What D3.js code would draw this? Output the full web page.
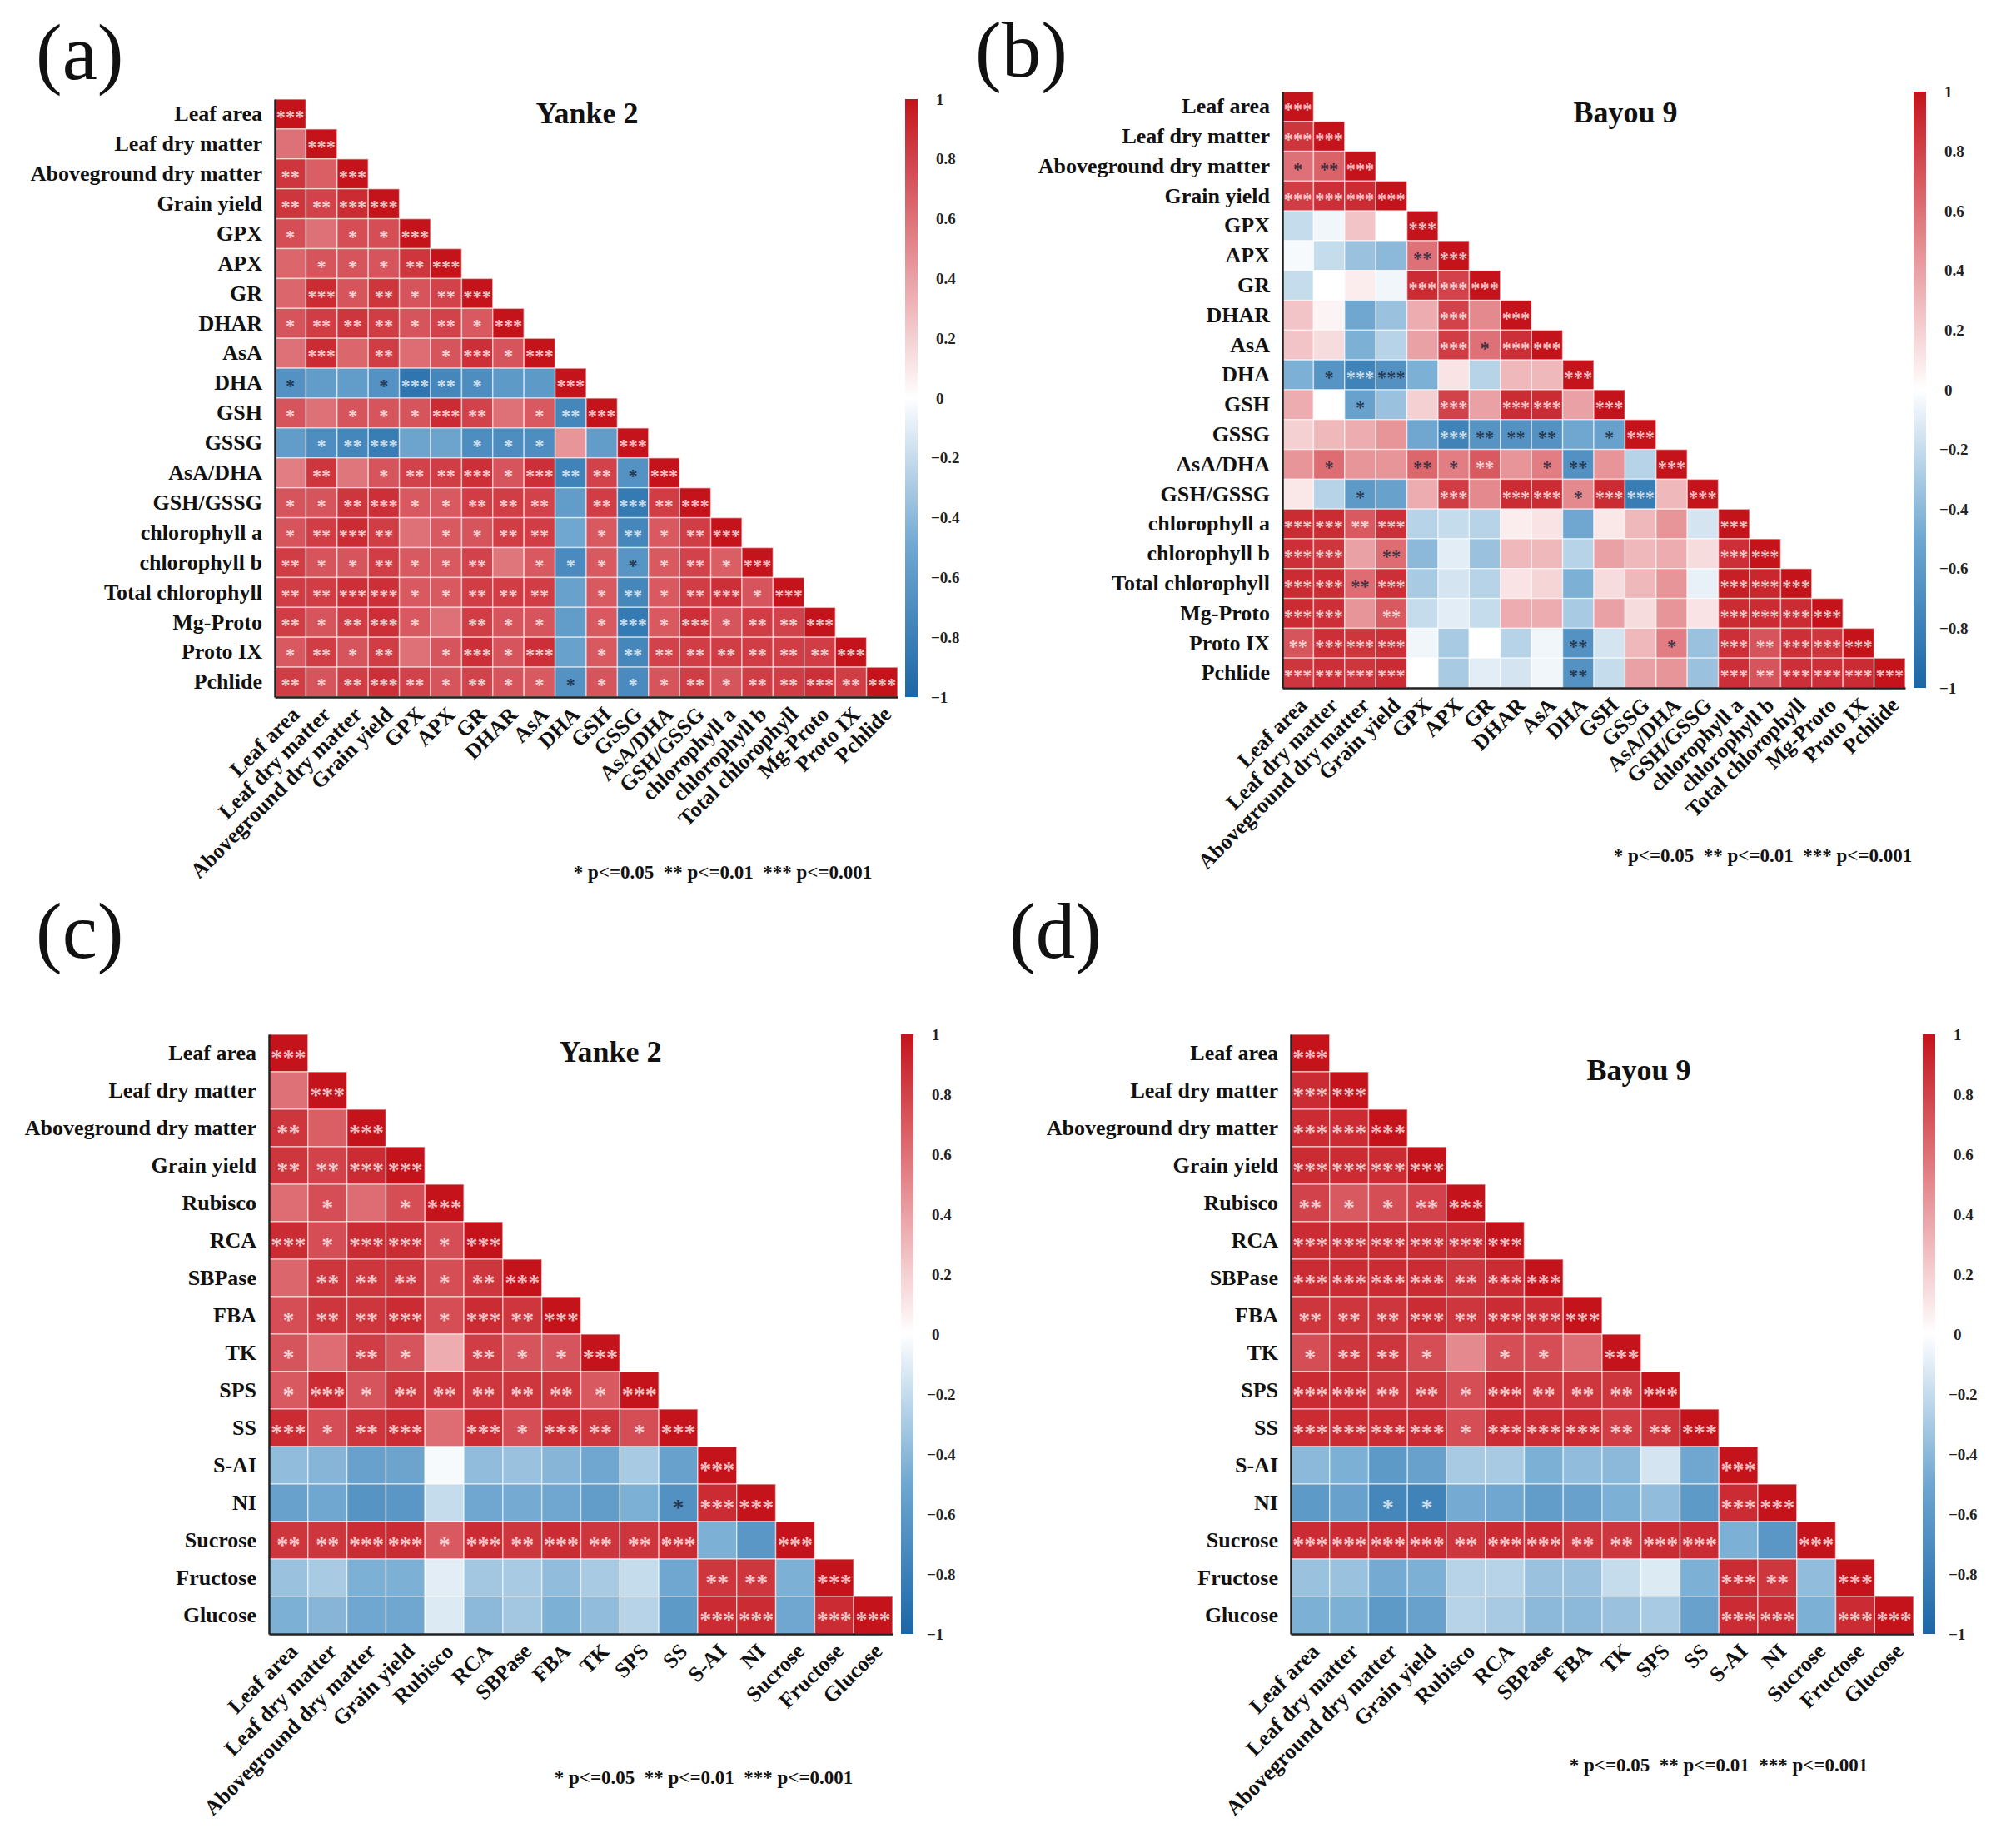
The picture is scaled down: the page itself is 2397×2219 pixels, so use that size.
<!DOCTYPE html>
<html>
<head>
<meta charset="utf-8">
<script src="https://cdn.jsdelivr.net/npm/d3@7"></script>
<style>
  body { margin: 0; background: #fff; }
  text { font-family: "Liberation Serif", "Times New Roman", serif; }
</style>
</head>
<body>
<div id="chart"></div>
<script>
// ---- variables ----
const varsAB = ["Leaf area", "Leaf dry matter", "Aboveground dry matter", "Grain yield",
  "GPX", "APX", "GR", "DHAR", "AsA", "DHA", "GSH", "GSSG", "AsA/DHA", "GSH/GSSG",
  "chlorophyll a", "chlorophyll b", "Total chlorophyll", "Mg-Proto", "Proto IX", "Pchlide"];
const varsCD = ["Leaf area", "Leaf dry matter", "Aboveground dry matter", "Grain yield",
  "Rubisco", "RCA", "SBPase", "FBA", "TK", "SPS", "SS", "S-AI", "NI", "Sucrose", "Fructose", "Glucose"];

// ---- (a) Yanke 2, lower triangle correlations and star counts ----
const corrA = [
  [1],
  [0.6, 1],
  [0.85, 0.68, 1],
  [0.85, 0.8, 0.9, 1],
  [0.75, 0.6, 0.75, 0.75, 1],
  [0.65, 0.72, 0.72, 0.72, 0.85, 1],
  [0.65, 0.9, 0.72, 0.85, 0.72, 0.8, 1],
  [0.72, 0.82, 0.85, 0.82, 0.72, 0.8, 0.7, 1],
  [0.6, 0.9, 0.65, 0.82, 0.62, 0.72, 0.88, 0.72, 1],
  [-0.66, -0.58, -0.58, -0.66, -0.88, -0.75, -0.7, -0.6, -0.6, 1],
  [0.72, 0.6, 0.72, 0.72, 0.72, 0.9, 0.8, 0.6, 0.7, -0.75, 1],
  [-0.58, -0.7, -0.75, -0.82, -0.52, -0.52, -0.7, -0.7, -0.7, 0.45, -0.58, 1],
  [0.55, 0.85, 0.58, 0.72, 0.8, 0.82, 0.88, 0.72, 0.88, -0.78, 0.8, -0.66, 1],
  [0.72, 0.72, 0.85, 0.88, 0.7, 0.7, 0.82, 0.82, 0.8, -0.58, 0.82, -0.85, 0.82, 1],
  [0.72, 0.82, 0.9, 0.82, 0.6, 0.7, 0.72, 0.82, 0.82, -0.5, 0.7, -0.75, 0.7, 0.82, 1],
  [0.82, 0.72, 0.72, 0.82, 0.7, 0.7, 0.8, 0.58, 0.7, -0.72, 0.7, -0.64, 0.7, 0.8, 0.68, 1],
  [0.82, 0.82, 0.88, 0.88, 0.7, 0.7, 0.82, 0.82, 0.82, -0.55, 0.7, -0.75, 0.7, 0.82, 0.88, 0.72, 1],
  [0.82, 0.72, 0.82, 0.88, 0.7, 0.6, 0.82, 0.72, 0.72, -0.58, 0.7, -0.85, 0.7, 0.88, 0.72, 0.82, 0.8, 1],
  [0.7, 0.82, 0.72, 0.82, 0.6, 0.72, 0.88, 0.72, 0.88, -0.55, 0.7, -0.75, 0.8, 0.82, 0.82, 0.82, 0.82, 0.82, 1],
  [0.82, 0.72, 0.82, 0.88, 0.8, 0.72, 0.8, 0.72, 0.7, -0.66, 0.72, -0.72, 0.72, 0.82, 0.72, 0.82, 0.82, 0.88, 0.82, 1]
];
const starsA = [
  [3],
  [0, 3],
  [2, 0, 3],
  [2, 2, 3, 3],
  [1, 0, 1, 1, 3],
  [0, 1, 1, 1, 2, 3],
  [0, 3, 1, 2, 1, 2, 3],
  [1, 2, 2, 2, 1, 2, 1, 3],
  [0, 3, 0, 2, 0, 1, 3, 1, 3],
  [1, 0, 0, 1, 3, 2, 1, 0, 0, 3],
  [1, 0, 1, 1, 1, 3, 2, 0, 1, 2, 3],
  [0, 1, 2, 3, 0, 0, 1, 1, 1, 0, 0, 3],
  [0, 2, 0, 1, 2, 2, 3, 1, 3, 2, 2, 1, 3],
  [1, 1, 2, 3, 1, 1, 2, 2, 2, 0, 2, 3, 2, 3],
  [1, 2, 3, 2, 0, 1, 1, 2, 2, 0, 1, 2, 1, 2, 3],
  [2, 1, 1, 2, 1, 1, 2, 0, 1, 1, 1, 1, 1, 2, 1, 3],
  [2, 2, 3, 3, 1, 1, 2, 2, 2, 0, 1, 2, 1, 2, 3, 1, 3],
  [2, 1, 2, 3, 1, 0, 2, 1, 1, 0, 1, 3, 1, 3, 1, 2, 2, 3],
  [1, 2, 1, 2, 0, 1, 3, 1, 3, 0, 1, 2, 2, 2, 2, 2, 2, 2, 3],
  [2, 1, 2, 3, 2, 1, 2, 1, 1, 1, 1, 1, 1, 2, 1, 2, 2, 3, 2, 3]
];

// ---- (b) Bayou 9 ----
const corrB = [
  [1],
  [0.85, 1],
  [0.6, 0.66, 1],
  [0.82, 0.88, 0.9, 1],
  [-0.2, -0.05, 0.25, 0.0, 1],
  [-0.03, -0.2, -0.35, -0.4, 0.6, 1],
  [-0.2, 0.0, 0.08, -0.05, 0.9, 0.8, 1],
  [0.25, 0.05, -0.5, -0.35, 0.35, 0.8, 0.5, 1],
  [0.25, 0.15, -0.45, -0.25, 0.4, 0.82, 0.6, 0.88, 1],
  [-0.45, -0.65, -0.78, -0.67, -0.45, 0.12, -0.25, 0.3, 0.3, 1],
  [0.35, 0.0, -0.55, -0.35, 0.2, 0.8, 0.4, 0.9, 0.9, 0.4, 1],
  [0.2, 0.3, 0.35, 0.45, -0.5, -0.78, -0.65, -0.66, -0.66, -0.5, -0.55, 1],
  [0.45, 0.62, 0.45, 0.45, 0.65, 0.55, 0.7, 0.45, 0.55, -0.67, 0.45, -0.25, 1],
  [0.1, -0.25, -0.6, -0.55, 0.35, 0.82, 0.5, 0.9, 0.9, 0.5, 0.9, -0.82, 0.3, 1],
  [0.9, 0.9, 0.7, 0.88, -0.25, -0.2, -0.25, 0.08, 0.12, -0.5, 0.1, 0.3, 0.45, -0.15, 1],
  [0.88, 0.85, 0.4, 0.62, -0.4, -0.1, -0.35, 0.3, 0.3, -0.25, 0.4, 0.3, 0.35, 0.15, 0.88, 1],
  [0.9, 0.9, 0.62, 0.88, -0.3, -0.15, -0.25, 0.12, 0.18, -0.45, 0.15, 0.3, 0.45, -0.08, 0.95, 0.92, 1],
  [0.9, 0.88, 0.45, 0.7, -0.2, -0.1, -0.2, 0.35, 0.35, -0.3, 0.4, 0.15, 0.45, 0.12, 0.9, 0.9, 0.9, 1],
  [0.72, 0.88, 0.85, 0.88, -0.05, -0.3, 0.0, -0.25, -0.05, -0.66, -0.15, 0.3, 0.55, -0.35, 0.88, 0.72, 0.88, 0.85, 1],
  [0.85, 0.88, 0.85, 0.9, 0.0, -0.3, -0.1, -0.15, -0.05, -0.66, -0.2, 0.4, 0.45, -0.35, 0.88, 0.72, 0.88, 0.88, 0.9, 1]
];
const starsB = [
  [3],
  [3, 3],
  [1, 2, 3],
  [3, 3, 3, 3],
  [0, 0, 0, 0, 3],
  [0, 0, 0, 0, 2, 3],
  [0, 0, 0, 0, 3, 3, 3],
  [0, 0, 0, 0, 0, 3, 0, 3],
  [0, 0, 0, 0, 0, 3, 1, 3, 3],
  [0, 1, 3, 3, 0, 0, 0, 0, 0, 3],
  [0, 0, 1, 0, 0, 3, 0, 3, 3, 0, 3],
  [0, 0, 0, 0, 0, 3, 2, 2, 2, 0, 1, 3],
  [0, 1, 0, 0, 2, 1, 2, 0, 1, 2, 0, 0, 3],
  [0, 0, 1, 0, 0, 3, 0, 3, 3, 1, 3, 3, 0, 3],
  [3, 3, 2, 3, 0, 0, 0, 0, 0, 0, 0, 0, 0, 0, 3],
  [3, 3, 0, 2, 0, 0, 0, 0, 0, 0, 0, 0, 0, 0, 3, 3],
  [3, 3, 2, 3, 0, 0, 0, 0, 0, 0, 0, 0, 0, 0, 3, 3, 3],
  [3, 3, 0, 2, 0, 0, 0, 0, 0, 0, 0, 0, 0, 0, 3, 3, 3, 3],
  [2, 3, 3, 3, 0, 0, 0, 0, 0, 2, 0, 0, 1, 0, 3, 2, 3, 3, 3],
  [3, 3, 3, 3, 0, 0, 0, 0, 0, 2, 0, 0, 0, 0, 3, 2, 3, 3, 3, 3]
];

// ---- (c) Yanke 2 ----
const corrC = [
  [1],
  [0.6, 1],
  [0.85, 0.68, 1],
  [0.85, 0.8, 0.9, 1],
  [0.62, 0.75, 0.62, 0.75, 1],
  [0.9, 0.75, 0.9, 0.9, 0.75, 1],
  [0.65, 0.85, 0.85, 0.85, 0.75, 0.85, 1],
  [0.75, 0.85, 0.85, 0.9, 0.75, 0.9, 0.85, 1],
  [0.72, 0.62, 0.82, 0.72, 0.35, 0.82, 0.72, 0.72, 1],
  [0.7, 0.9, 0.72, 0.85, 0.85, 0.85, 0.85, 0.85, 0.7, 1],
  [0.9, 0.75, 0.85, 0.9, 0.62, 0.9, 0.75, 0.9, 0.85, 0.75, 1],
  [-0.38, -0.42, -0.55, -0.52, -0.03, -0.38, -0.35, -0.42, -0.5, -0.3, -0.55, 1],
  [-0.55, -0.5, -0.65, -0.62, -0.2, -0.5, -0.48, -0.5, -0.58, -0.45, -0.67, 0.9, 1],
  [0.85, 0.85, 0.9, 0.9, 0.7, 0.9, 0.85, 0.9, 0.85, 0.85, 0.9, -0.45, -0.62, 1],
  [-0.35, -0.3, -0.45, -0.45, -0.1, -0.32, -0.3, -0.38, -0.3, -0.2, -0.5, 0.85, 0.85, -0.45, 1],
  [-0.45, -0.42, -0.5, -0.5, -0.12, -0.4, -0.32, -0.45, -0.38, -0.25, -0.6, 0.9, 0.9, -0.5, 0.9, 1]
];
const starsC = [
  [3],
  [0, 3],
  [2, 0, 3],
  [2, 2, 3, 3],
  [0, 1, 0, 1, 3],
  [3, 1, 3, 3, 1, 3],
  [0, 2, 2, 2, 1, 2, 3],
  [1, 2, 2, 3, 1, 3, 2, 3],
  [1, 0, 2, 1, 0, 2, 1, 1, 3],
  [1, 3, 1, 2, 2, 2, 2, 2, 1, 3],
  [3, 1, 2, 3, 0, 3, 1, 3, 2, 1, 3],
  [0, 0, 0, 0, 0, 0, 0, 0, 0, 0, 0, 3],
  [0, 0, 0, 0, 0, 0, 0, 0, 0, 0, 1, 3, 3],
  [2, 2, 3, 3, 1, 3, 2, 3, 2, 2, 3, 0, 0, 3],
  [0, 0, 0, 0, 0, 0, 0, 0, 0, 0, 0, 2, 2, 0, 3],
  [0, 0, 0, 0, 0, 0, 0, 0, 0, 0, 0, 3, 3, 0, 3, 3]
];

// ---- (d) Bayou 9 ----
const corrD = [
  [1],
  [0.9, 1],
  [0.9, 0.9, 1],
  [0.9, 0.9, 0.9, 1],
  [0.8, 0.7, 0.75, 0.8, 1],
  [0.9, 0.9, 0.9, 0.9, 0.9, 1],
  [0.9, 0.9, 0.9, 0.9, 0.85, 0.9, 1],
  [0.85, 0.85, 0.85, 0.9, 0.85, 0.9, 0.9, 1],
  [0.75, 0.85, 0.85, 0.75, 0.5, 0.75, 0.75, 0.62, 1],
  [0.9, 0.9, 0.85, 0.85, 0.75, 0.9, 0.85, 0.85, 0.85, 1],
  [0.9, 0.9, 0.9, 0.9, 0.75, 0.9, 0.9, 0.9, 0.82, 0.85, 1],
  [-0.4, -0.45, -0.6, -0.55, -0.3, -0.3, -0.45, -0.38, -0.4, -0.15, -0.5, 1],
  [-0.6, -0.55, -0.75, -0.78, -0.48, -0.5, -0.58, -0.55, -0.45, -0.38, -0.6, 0.9, 1],
  [0.9, 0.9, 0.9, 0.9, 0.85, 0.9, 0.9, 0.85, 0.85, 0.9, 0.9, -0.45, -0.62, 1],
  [-0.35, -0.35, -0.48, -0.45, -0.25, -0.25, -0.35, -0.35, -0.2, -0.12, -0.45, 0.9, 0.85, -0.38, 1],
  [-0.45, -0.45, -0.6, -0.55, -0.25, -0.3, -0.4, -0.4, -0.35, -0.3, -0.55, 0.9, 0.9, -0.45, 0.9, 1]
];
const starsD = [
  [3],
  [3, 3],
  [3, 3, 3],
  [3, 3, 3, 3],
  [2, 1, 1, 2, 3],
  [3, 3, 3, 3, 3, 3],
  [3, 3, 3, 3, 2, 3, 3],
  [2, 2, 2, 3, 2, 3, 3, 3],
  [1, 2, 2, 1, 0, 1, 1, 0, 3],
  [3, 3, 2, 2, 1, 3, 2, 2, 2, 3],
  [3, 3, 3, 3, 1, 3, 3, 3, 2, 2, 3],
  [0, 0, 0, 0, 0, 0, 0, 0, 0, 0, 0, 3],
  [0, 0, 1, 1, 0, 0, 0, 0, 0, 0, 0, 3, 3],
  [3, 3, 3, 3, 2, 3, 3, 2, 2, 3, 3, 0, 0, 3],
  [0, 0, 0, 0, 0, 0, 0, 0, 0, 0, 0, 3, 2, 0, 3],
  [0, 0, 0, 0, 0, 0, 0, 0, 0, 0, 0, 3, 3, 0, 3, 3]
];

const colorTicks = [1, 0.8, 0.6, 0.4, 0.2, 0, -0.2, -0.4, -0.6, -0.8, -1];
const legendText = "* p<=0.05  ** p<=0.01  *** p<=0.001";

// ---- layout ----
const panels = [
  { letter: "(a)", title: "Yanke 2", vars: varsAB, corr: corrA, stars: starsA,
    left: 330, top: 119, right: 1078, bottom: 837, titleX: 705, titleY: 148,
    cbX: 1087, letterX: 43, letterY: 95, legX: 868, legY: 1055 },
  { letter: "(b)", title: "Bayou 9", vars: varsAB, corr: corrB, stars: starsB,
    left: 1540, top: 110, right: 2288, bottom: 826, titleX: 1952, titleY: 147,
    cbX: 2298, letterX: 1171, letterY: 92, legX: 2117, legY: 1035 },
  { letter: "(c)", title: "Yanke 2", vars: varsCD, corr: corrC, stars: starsC,
    left: 323, top: 1242, right: 1072, bottom: 1962, titleX: 733, titleY: 1275,
    cbX: 1082, letterX: 43, letterY: 1150, legX: 845, legY: 2142 },
  { letter: "(d)", title: "Bayou 9", vars: varsCD, corr: corrD, stars: starsD,
    left: 1550, top: 1242, right: 2298, bottom: 1962, titleX: 1968, titleY: 1297,
    cbX: 2309, letterX: 1212, letterY: 1150, legX: 2064, legY: 2127 }
];

const color = d3.scaleLinear()
  .domain([-1, -0.5, 0, 0.5, 1])
  .range(["#1b66a6", "#6fa7d0", "#ffffff", "#e4898e", "#c5131c"])
  .clamp(true);

const svg = d3.select("#chart").append("svg")
  .attr("width", 2397)
  .attr("height", 2219);

const defs = svg.append("defs");
const grad = defs.append("linearGradient")
  .attr("id", "cbGrad")
  .attr("x1", 0).attr("y1", 1).attr("x2", 0).attr("y2", 0);
grad.selectAll("stop")
  .data(d3.range(0, 21))
  .enter().append("stop")
  .attr("offset", d => d / 20)
  .attr("stop-color", d => color(-1 + d / 10));

function corrPanel(p) {
  const g = svg.append("g");

  const x = d3.scaleBand().domain(p.vars).range([p.left, p.right]);
  const y = d3.scaleBand().domain(p.vars).range([p.top, p.bottom]);

  const cells = [];
  p.corr.forEach((row, i) => row.forEach((v, j) => {
    cells.push({ row: p.vars[i], col: p.vars[j], r: v, n: p.stars[i][j] });
  }));

  g.selectAll("rect.cell")
    .data(cells)
    .enter().append("rect")
    .attr("class", "cell")
    .attr("x", d => x(d.col))
    .attr("y", d => y(d.row))
    .attr("width", x.bandwidth())
    .attr("height", y.bandwidth())
    .attr("fill", d => color(d.r))
    .attr("stroke", "#fff")
    .attr("stroke-opacity", 0.55)
    .attr("stroke-width", 1.5);

  const fs = x.bandwidth() * 0.6;
  g.selectAll("text.sig")
    .data(cells.filter(d => d.n > 0))
    .enter().append("text")
    .attr("class", "sig")
    .attr("x", d => x(d.col) + x.bandwidth() / 2)
    .attr("y", d => y(d.row) + y.bandwidth() / 2)
    .attr("dy", "0.5em")
    .attr("text-anchor", "middle")
    .attr("font-size", fs)
    .attr("font-weight", "bold")
    .attr("fill", d => Math.abs(d.r) >= 0.68 ? "rgba(255,255,255,0.72)" : "rgba(25,35,55,0.78)")
    .text(d => "*".repeat(d.n));

  // axes
  const gy = g.append("g")
    .attr("transform", `translate(${p.left},0)`)
    .call(d3.axisLeft(y).tickSize(0).tickSizeOuter(0).tickPadding(15));
  const gx = g.append("g")
    .attr("transform", `translate(0,${p.bottom})`)
    .call(d3.axisBottom(x).tickSize(0).tickSizeOuter(0));

  [gx, gy].forEach(ax => {
    ax.select(".domain").attr("stroke", "#222").attr("stroke-width", 2.5);
    ax.selectAll("text")
      .attr("font-family", "'Liberation Serif', 'Times New Roman', serif")
      .attr("font-size", 26)
      .attr("font-weight", "bold")
      .attr("fill", "#111");
  });
  gx.selectAll("text")
    .attr("x", 0).attr("y", 0)
    .attr("dy", "0.35em")
    .attr("text-anchor", "end")
    .attr("transform", "translate(6,16) rotate(-45)");

  // colour bar
  const cbW = 15;
  g.append("rect")
    .attr("x", p.cbX).attr("y", p.top)
    .attr("width", cbW).attr("height", p.bottom - p.top)
    .attr("fill", "url(#cbGrad)");
  const cbScale = d3.scaleLinear().domain([-1, 1]).range([p.bottom, p.top]);
  const gcb = g.append("g")
    .attr("transform", `translate(${p.cbX + cbW},0)`)
    .call(d3.axisRight(cbScale).tickValues(colorTicks).tickSize(0).tickPadding(22)
      .tickFormat(d => d < 0 ? "\u2212" + Math.abs(d) : String(d)));
  gcb.select(".domain").remove();
  gcb.selectAll("text")
    .attr("font-family", "'Liberation Serif', 'Times New Roman', serif")
    .attr("font-size", 19)
    .attr("font-weight", "bold")
    .attr("fill", "#222")
    .attr("dx", d => d < 0 ? -6 : 0);

  // titles and notes
  g.append("text")
    .attr("x", p.titleX).attr("y", p.titleY)
    .attr("text-anchor", "middle")
    .attr("font-size", 36).attr("font-weight", "bold").attr("fill", "#111")
    .text(p.title);

  g.append("text")
    .attr("x", p.letterX).attr("y", p.letterY)
    .attr("font-size", 95).attr("fill", "#111")
    .text(p.letter);

  g.append("text")
    .attr("x", p.legX).attr("y", p.legY)
    .attr("text-anchor", "middle")
    .attr("font-size", 23).attr("font-weight", "bold").attr("fill", "#111")
    .style("white-space", "pre")
    .text(legendText);
}

panels.forEach(corrPanel);
</script>
</body>
</html>
